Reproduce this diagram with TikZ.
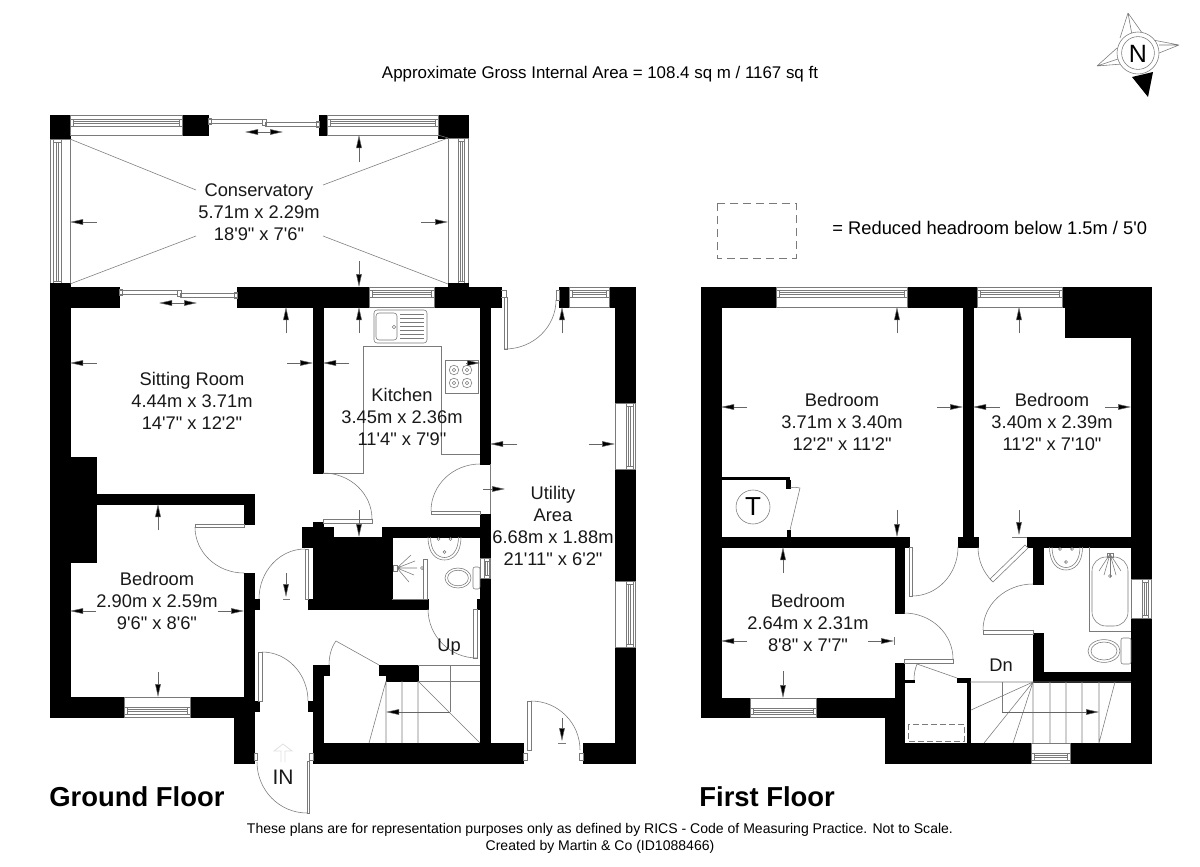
\documentclass[tikz,border=0pt]{standalone}
\usepackage{fontspec}
\newfontfamily\plan{Liberation Sans}
\usetikzlibrary{calc,arrows.meta}
\definecolor{lineg}{gray}{0.48}
\tikzset{
  wall/.style={fill=black,draw=black,line width=.1pt},
  fine/.style={draw=lineg,line width=.28pt},
  dimline/.style={draw=black!60,line width=.25pt,-{Triangle[length=6.5pt,width=2.8pt,fill=black]}},
  dimboth/.style={draw=black!60,line width=.25pt,{Triangle[length=6.5pt,width=2.8pt,fill=black]}-{Triangle[length=6.5pt,width=2.8pt,fill=black]}},
  room/.style={font=\plan\fontsize{9.15}{11}\selectfont,align=center,inner sep=0pt,text=black!90},
  title/.style={font=\plan\bfseries\fontsize{13.7}{16}\selectfont,anchor=west,inner sep=0pt},
}
% A to B, quarter arc whose tangents meet at corner C
\newcommand\qarc[3]{\draw[fine] (#1) .. controls ($(#1)!0.5523!(#2)$) and ($(#3)!0.5523!(#2)$) .. (#3);}
\newcommand\bx[4]{\draw[wall] (#1,#2) rectangle (#3,#4);}
\newcommand\fr[4]{\draw[fine,fill=white] (#1,#2) rectangle (#3,#4);}
% horizontal window x1 x2 y1 y2 bandA bandB
\newcommand\hwin[6]{\draw[fine] (#1,#3) rectangle (#2,#4);
  \draw[fine] (#1,#5) rectangle (#2,#6);
  \draw[fine] (#1+3,#5) -- (#1+3,#6) (#2-3,#5) -- (#2-3,#6);
  \draw[fine] (#1+3,{(#5+#6)/2-1}) -- (#2-3,{(#5+#6)/2-1}) (#1+3,{(#5+#6)/2+1}) -- (#2-3,{(#5+#6)/2+1});}
% vertical window y1 y2 x1 x2 bandA bandB
\newcommand\vwin[6]{\draw[fine] (#3,#1) rectangle (#4,#2);
  \draw[fine] (#5,#1) rectangle (#6,#2);
  \draw[fine] (#5,#1+3) -- (#6,#1+3) (#5,#2-3) -- (#6,#2-3);
  \draw[fine] ({(#5+#6)/2-1},#1+3) -- ({(#5+#6)/2-1},#2-3) ({(#5+#6)/2+1},#1+3) -- ({(#5+#6)/2+1},#2-3);}
% sliding door x1 xm x2 y
\newcommand\slider[4]{\draw[fine] (#1,#4) rectangle (#2-1.5,#4+4);
  \draw[fine] (#2+1.5,#4+3) rectangle (#3,#4+7);
  \draw[fine] (#1,#4-1) rectangle (#1+3,#4+5) (#2-2,#4) rectangle (#2+2,#4+6) (#3-3,#4+2) rectangle (#3,#4+8);}
\newcommand\basin[2]{\begin{scope}[shift={(#1,#2)}]
  \draw[fine] (-16.5,0) .. controls (-16.5,17) and (-8,23) .. (0,23) .. controls (8,23) and (16.5,17) .. (16.5,0);
  \draw[fine] (-14,0) .. controls (-14,14) and (-7,20.5) .. (0,20.5) .. controls (7,20.5) and (14,14) .. (14,0);
  \draw[fine] (-6,2) circle (.7pt) (6,2) circle (.7pt) (0,15) circle (.7pt);
  \end{scope}}
\begin{document}
\begin{tikzpicture}[x=.5pt,y=-.5pt]
\useasboundingbox (0,0) rectangle (1200,867);
\fill[white] (0,0) rectangle (1200,867);

% ---------- captions
\node[inner sep=0pt,font=\plan\fontsize{8.45}{10}\selectfont] (area) at (600,74) {Approximate Gross Internal Area = 108.4 sq m / 1167 sq ft};
\node[inner sep=0pt,anchor=west,font=\plan\fontsize{9.16}{11}\selectfont] (key) at (832,228) {= Reduced headroom below 1.5m / 5'0};
\draw[draw=lineg,line width=.3pt,dash pattern=on 4pt off 2.5pt] (717,203) rectangle (796,258);
\node[inner sep=0pt,font=\plan\fontsize{7.02}{8.5}\selectfont,align=center] (foot) at (600,838.5) {These plans are for representation purposes only as defined by RICS - Code of Measuring Practice. Not to Scale.\\Created by Martin \& Co (ID1088466)};
\node[title] (gf) at (49,797) {Ground Floor};
\node[title] (ff) at (699,797) {First Floor};

% ---------- compass
\draw[fine] (1128,13) -- (1120,38) (1128,13) -- (1145,37) (1128,13) -- (1132,35);
\draw[fine] (1179,45) -- (1153,40) (1179,45) -- (1159,53) (1179,45) -- (1159,45);
\draw[fine] (1097,66) -- (1117,48) (1097,66) -- (1122,64) (1097,66) -- (1118,59);
\fill[black] (1132,77) -- (1153,72) -- (1148,97) -- cycle;
\draw[fine,fill=white] (1138,53) circle (10.5pt);
\draw[fine] (1138,53) circle (8.2pt);
\node[inner sep=0pt,font=\plan\fontsize{12.5}{14}\selectfont] (north) at (1138,54) {N};

% ---------- GROUND FLOOR: conservatory
\bx{50}{115}{70}{139}
\bx{182}{115}{208}{135}
\bx{319}{115}{327}{135}
\bx{438}{115}{468}{138}
\hwin{70}{182}{115}{135}{119}{126}
\hwin{327}{438}{115}{135}{119}{126}
\slider{208}{264}{319}{119}
\vwin{139}{284}{50}{70}{53}{61}
\vwin{138}{284}{448}{468}{458}{464}
\bx{50}{283}{70}{288}
\bx{448}{283}{468}{288}
\draw[fine] (70,139) -- (196,190) (438,135) -- (448,138);
\draw[fine] (448,138) -- (323,185) (70,284) -- (196,236) (448,284) -- (323,236);

% wall between conservatory and house
\bx{50}{287}{119}{307}
\bx{237}{287}{369}{307}
\bx{434}{287}{501}{307}
\slider{119}{179}{237}{290}
\hwin{369}{434}{287}{307}{290}{297}

% outer and inner walls
\bx{50}{307}{70}{697}
\fill[black] (50,457) -- (97,457) -- (97,563) -- (50,563) -- cycle;
\bx{97}{494}{254}{504}
\bx{244}{504}{254}{524}
\bx{244}{573}{254}{697}
\bx{254}{599}{259}{609}
\bx{254}{701}{259}{711}
\draw[wall] (50,697) -- (124,697) -- (124,717) -- (50,717) -- cycle;
\draw[wall] (190,697) -- (254,697) -- (254,763) -- (234,763) -- (234,717) -- (190,717) -- cycle;
\hwin{124}{190}{697}{717}{707}{714}
\bx{313}{307}{323}{473}
\bx{480}{307}{490}{464}
\bx{480}{514}{490}{558}
\bx{480}{578}{490}{743}
\bx{382}{527}{480}{537}
\draw[wall] (313,522) -- (323,522) -- (323,527) -- (333,527) -- (333,537) -- (392,537) -- (392,599) -- (428,599) -- (428,609) -- (308,609) -- (308,599) -- (313,599) -- (313,547) -- (302,547) -- (302,527) -- (313,527) -- cycle;
\bx{477}{599}{480}{609}
\vwin{558}{578}{480}{490}{484}{489}
% utility outer
\bx{559}{287}{569}{307}
\bx{609}{287}{635}{307}
\bx{615}{307}{635}{403}
\bx{615}{469}{635}{581}
\draw[wall] (615,647) -- (635,647) -- (635,763) -- (583,763) -- (583,743) -- (615,743) -- cycle;
\hwin{569}{609}{287}{307}{290}{297}
\vwin{403}{469}{615}{635}{626}{633}
\vwin{581}{647}{615}{635}{626}{633}
\bx{313}{743}{523}{763}
\bx{313}{665}{323}{743}
\bx{323}{665}{329}{675}
\bx{308}{701}{313}{711}
\draw[wall] (379,665) -- (418,665) -- (418,681) -- (386,681) -- (386,675) -- (379,675) -- cycle;

% doors ground floor
\fr{195}{524}{244}{527} \qarc{195,527}{195,573}{244,573}
\fr{305}{549}{308}{599} \qarc{305,549}{259,549}{259,599}
\fr{258}{652}{262}{701} \qarc{262,652}{308,652}{308,701}
\fr{307}{761}{309}{813} \qarc{307,813}{257,813}{257,762}
\fr{254}{753}{257}{760} \fr{309}{753}{313}{760}
\fr{323}{519}{372}{523} \qarc{323,473}{372,473}{372,519}
\fr{431}{511}{480}{514} \qarc{480,464}{431,464}{431,511}
\draw[fine] (490,464) -- (490,514);
\fr{473}{609}{477}{658} \qarc{477,658}{428,658}{428,609}
\fr{504}{297}{507}{349} \qarc{505,349}{556,349}{556,300}
\draw[fine] (501,297) -- (507,297) (501,290) -- (506,290) -- (506,297);
\fr{556}{290}{559}{300}
\fr{527}{701}{531}{750} \qarc{531,701}{580,701}{580,750}
\fr{523}{753}{527}{760} \fr{579}{753}{583}{760}
\draw[fine] (329,665) .. controls (329,655) and (332,646) .. (336,641) -- (379,665);

% kitchen fittings
\draw[fine] (323,473) -- (363,473) -- (363,346) -- (441,346) -- (441,454) -- (480,454);
\draw[fine,rounded corners=1.5pt] (374,310) rectangle (427,343);
\draw[fine,rounded corners=1.5pt] (376,313) rectangle (397,340);
\draw[fine] (394,327) circle (.9pt);
\foreach \yy in {314,318,322,326,330,334,338} \draw[fine] (400,\yy) -- (424,\yy);
\draw[fine] (445,360) rectangle (478,393);
\foreach \xx/\yy in {454/370,467/370,454/383,467/383} {\draw[fine] (\xx,\yy) circle (2.4pt); \draw[fine] (\xx,\yy) circle (.9pt);}

% WC room
\basin{444.5}{537}
\draw[fine] (458,578) ellipse [x radius=6.5pt,y radius=5pt];
\draw[fine] (458,578) ellipse [x radius=5.2pt,y radius=3.9pt];
\draw[fine,rounded corners=1pt] (473,567) rectangle (480,589);
\fr{423}{559}{427}{599}
\draw[fine] (392,599) -- (423,599);
\draw[fine] (393,565) rectangle (397,571);
\draw[fine] (397,568) -- (411,555) (397,568) -- (415,561) (397,568) -- (417,568) (397,568) -- (414,575) (397,568) -- (409,582);
\draw[fine] (422,568) circle (.8pt);

% stairs ground floor
\draw[fine] (418,665) -- (480,665) (418,681) -- (480,681) (450,665) -- (450,712);
\draw[fine] (418,681) -- (418,743) (402,681) -- (402,743) (386,681) -- (386,743) (418,681) -- (480,743) (386,681) -- (369,743);
\draw[dimline] (450,712) -- (386,712);

% ---------- FIRST FLOOR walls
\bx{701}{287}{776}{307}
\bx{907}{287}{977}{307}
\draw[wall] (1062,287) -- (1151,287) -- (1151,579) -- (1131,579) -- (1131,337) -- (1065,337) -- (1065,307) -- (1062,307) -- cycle;
\hwin{776}{907}{287}{307}{290}{297}
\hwin{977}{1062}{287}{307}{290}{297}
\bx{701}{307}{721}{698}
\bx{701}{537}{909}{547}
\bx{895}{547}{904}{613}
\draw[wall] (701,698) -- (750,698) -- (750,717) -- (701,717) -- cycle;
\draw[wall] (816,698) -- (895,698) -- (895,663) -- (904,663) -- (904,743) -- (1031,743) -- (1031,763) -- (885,763) -- (885,717) -- (816,717) -- cycle;
\hwin{750}{816}{698}{717}{708}{714}
\bx{963}{307}{973}{537}
\bx{958}{537}{978}{547}
\bx{1027}{537}{1131}{547}
\bx{1033}{547}{1043}{584}
\draw[wall] (1033,633) -- (1043,633) -- (1043,672) -- (1131,672) -- (1131,682) -- (1033,682) -- cycle;
\bx{1131}{618}{1151}{743}
\draw[wall] (1070,743) -- (1151,743) -- (1151,763) -- (1070,763) -- cycle;
\bx{1131}{537}{1151}{579}
\vwin{579}{618}{1131}{1151}{1142}{1148}
\hwin{1031}{1070}{743}{763}{753}{760}
% T cupboard
\fill[black] (721,477) rectangle (790,480);
\bx{786}{480}{790}{488}
\bx{787}{530}{790}{537}
\draw[fine] (790,488) .. controls (794,487) and (797,487) .. (800,488) -- (790,530);
\draw[fine] (753,507) circle (8.5pt);
\node[inner sep=0pt,font=\plan\fontsize{13}{14}\selectfont] (tank) at (753,507) {T};
% understairs cupboard
\bx{904}{680}{914}{682}
\bx{957}{678}{970}{682}
\bx{967}{682}{970}{743}
\draw[fine] (914,680) .. controls (914,674) and (915,669) .. (917,664) -- (957,678);
\draw[draw=lineg,line width=.3pt,dash pattern=on 3pt off 1.5pt] (908,724) rectangle (964,741);
% doors first floor
\fr{909}{547}{912}{596} \qarc{912,596}{958,596}{958,547}
\fr{904}{659}{953}{663} \qarc{904,613}{953,613}{953,659}
\draw[fine,fill=white] (990,579) -- (993,582) -- (1028,548) -- (1025,545) -- cycle;
\draw[fine] (978,547) .. controls (978,560) and (983,572) .. (992,581);
\fr{983}{630}{1033}{634} \qarc{1033,584}{983,584}{983,630}
% bathroom
\basin{1066}{547}
\draw[fine] (1089,547) -- (1089,631) -- (1131,631);
\draw[fine,rounded corners=7pt] (1092,557) rectangle (1128,626);
\draw[fine] (1107,553) rectangle (1113,557);
\foreach \ex/\ey in {1099/571,1104/575,1110/577,1116/575,1121/571} \draw[fine] (1110,554) -- (\ex,\ey);
\draw[fine] (1110,576) circle (.8pt);
\draw[fine] (1104,651) ellipse [x radius=8pt,y radius=5.7pt];
\draw[fine] (1104,651) ellipse [x radius=6.5pt,y radius=4.5pt];
\draw[fine,rounded corners=1pt] (1121,638) rectangle (1131,664);
% stairs first floor
\draw[fine] (970,682) -- (1131,682) (1033,682) -- (1033,743) (1050,682) -- (1050,743) (1066,682) -- (1066,743) (1082,682) -- (1082,743) (1099,682) -- (1099,743) (1115,682) -- (1099,743);
\draw[fine] (1033,682) -- (971,710) (1033,682) -- (984,743) (1033,682) -- (1013,743);
\draw[fine] (1002,682) -- (1002,712);
\draw[dimline] (1002,712) -- (1099,712);

% ---------- dimension arrows
\draw[dimline] (97,222) -- (70,222);
\draw[dimline] (421,222) -- (448,222);
\draw[dimline] (359,162) -- (359,135);
\draw[dimline] (359,261) -- (359,287);
\draw[dimboth] (245,132) -- (283,132);
\draw[dimboth] (159,303) -- (197,303);
\draw[dimline] (286,333) -- (286,307);
\draw[dimline] (97,363) -- (70,363);
\draw[dimline] (287,363) -- (313,363);
\draw[dimline] (158,530) -- (158,504);
\draw[dimline] (359,333) -- (359,307);
\draw[dimline] (349,363) -- (323,363);
\draw[dimline] (466,363) -- (480,363);
\draw[dimline] (359,510) -- (359,537);
\draw[dimline] (517,444) -- (490,444);
\draw[dimline] (589,444) -- (615,444);
\draw[dimline] (562,333) -- (562,307);
\draw[dimline] (562,718) -- (562,741); \draw[fine] (558,743) -- (566,743);
\draw[dimline] (483,489) -- (505,489);
\draw[dimline] (96,611) -- (70,611);
\draw[dimline] (218,611) -- (244,611);
\draw[dimline] (158,672) -- (158,697);
\draw[dimline] (286,573) -- (286,597); \draw[fine] (283,599) -- (290,599);
\draw[dimline] (897,333) -- (897,307);
\draw[dimline] (747,407) -- (721,407);
\draw[dimline] (937,407) -- (963,407);
\draw[dimline] (897,510) -- (897,537);
\draw[dimline] (1019,333) -- (1019,307);
\draw[dimline] (1000,407) -- (973,407);
\draw[dimline] (1105,407) -- (1131,407);
\draw[dimline] (1019,510) -- (1019,535); \draw[fine] (1012,537) -- (1027,537);
\draw[dimline] (783,573) -- (783,547);
\draw[dimline] (747,641) -- (721,641);
\draw[dimline] (868,641) -- (894,641); \draw[fine] (894,637) -- (894,645);
\draw[dimline] (783,671) -- (783,698);
% IN arrow, pale
\draw[black!12,line width=.4pt] (281,762) -- (281,751) -- (274,751) -- (283,744) -- (292,751) -- (285,751) -- (285,762);

% ---------- room labels
\node[room] (r1) at (259,212) {Conservatory\\5.71m x 2.29m\\18'9" x 7'6"};
\node[room] (r2) at (192,401) {Sitting Room\\4.44m x 3.71m\\14'7" x 12'2"};
\node[room] (r3) at (402,417) {Kitchen\\3.45m x 2.36m\\11'4" x 7'9"};
\node[room] (r4) at (553,526) {Utility\\Area\\6.68m x 1.88m\\21'11" x 6'2"};
\node[room] (r5) at (157,601) {Bedroom\\2.90m x 2.59m\\9'6" x 8'6"};
\node[room] (r6) at (842,422) {Bedroom\\3.71m x 3.40m\\12'2" x 11'2"};
\node[room] (r7) at (1052,422) {Bedroom\\3.40m x 2.39m\\11'2" x 7'10"};
\node[room] (r8) at (808,623) {Bedroom\\2.64m x 2.31m\\8'8" x 7'7"};
\node[room] (up) at (449,647) {Up};
\node[room] (dn) at (1001,665) {Dn};
\node[room,font=\plan\fontsize{10.5}{12}\selectfont] (in) at (283,777) {IN};
\end{tikzpicture}
\end{document}
